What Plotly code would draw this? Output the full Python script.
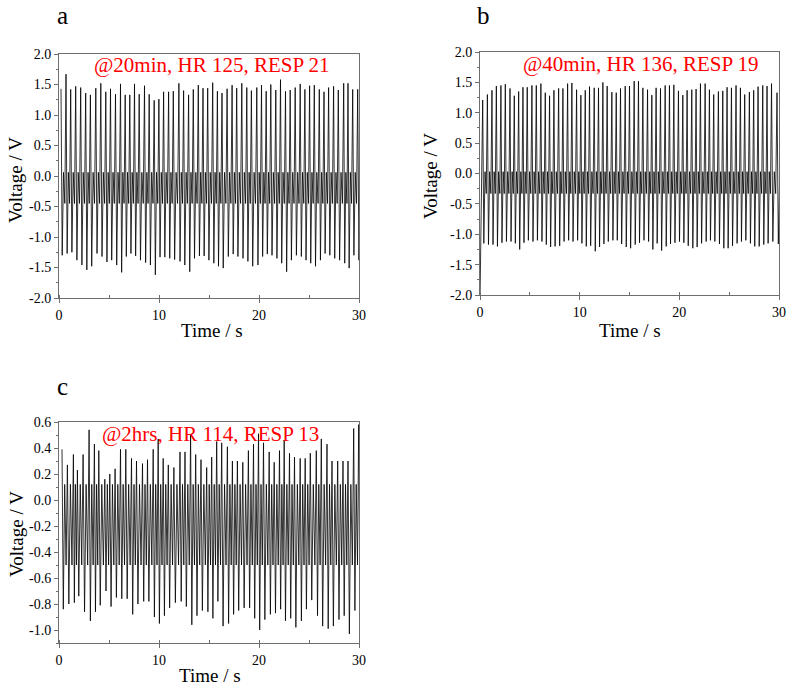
import plotly.graph_objects as go

# ---------------- data ----------------
# Panel a: @20min, HR 125, RESP 21
a_beat_t = [0.20, 0.70, 1.17, 1.67, 2.17, 2.67, 3.14, 3.68, 4.18, 4.68, 5.15, 5.65, 6.15, 6.62, 7.08,
            7.55, 8.02, 8.55, 9.02, 9.52, 9.99, 10.46, 10.96, 11.43, 11.99, 12.46, 12.96, 13.43, 13.93,
            14.40, 14.87, 15.37, 15.84, 16.30, 16.81, 17.31, 17.77, 18.28, 18.78, 19.24, 19.78, 20.25,
            20.72, 21.18, 21.68, 22.15, 22.65, 23.12, 23.62, 24.12, 24.59, 25.06, 25.53, 26.03, 26.50,
            26.96, 27.46, 27.93, 28.47, 28.90, 29.37, 29.87]
a_peak = [1.43, 1.67, 1.42, 1.47, 1.45, 1.36, 1.33, 1.44, 1.52, 1.38, 1.43, 1.34, 1.51, 1.33, 1.33,
          1.51, 1.34, 1.48, 1.34, 1.24, 1.26, 1.38, 1.38, 1.39, 1.52, 1.40, 1.33, 1.42, 1.49, 1.44,
          1.44, 1.53, 1.39, 1.36, 1.43, 1.49, 1.44, 1.52, 1.45, 1.40, 1.45, 1.49, 1.39, 1.50, 1.41,
          1.58, 1.39, 1.41, 1.45, 1.51, 1.42, 1.48, 1.49, 1.42, 1.38, 1.45, 1.47, 1.41, 1.52, 1.52,
          1.42, 1.42]
a_trough = [-1.30, -1.27, -1.25, -1.38, -1.46, -1.54, -1.48, -1.27, -1.32, -1.41, -1.38, -1.46, -1.58,
            -1.32, -1.27, -1.31, -1.38, -1.42, -1.46, -1.62, -1.33, -1.33, -1.35, -1.37, -1.40, -1.46,
            -1.57, -1.35, -1.31, -1.31, -1.38, -1.43, -1.48, -1.51, -1.32, -1.28, -1.32, -1.35, -1.40,
            -1.48, -1.46, -1.32, -1.28, -1.30, -1.35, -1.43, -1.57, -1.38, -1.30, -1.32, -1.38, -1.43,
            -1.48, -1.38, -1.27, -1.30, -1.35, -1.38, -1.43, -1.51, -1.30, -1.38]
a_notch = [0.06, -0.45]          # recovery level, secondary dip level

# Panel b: @40min, HR 136, RESP 19
b_lead_t = [0.0]
b_lead_v = [-2.1]
b_beat_t = [0.27, 0.74, 1.20, 1.64, 2.10, 2.54, 3.01, 3.44, 3.88, 4.31, 4.74, 5.21, 5.65, 6.11, 6.55,
            6.98, 7.42, 7.89, 8.32, 8.79, 9.22, 9.69, 10.12, 10.56, 10.99, 11.46, 11.89, 12.33, 12.76,
            13.23, 13.67, 14.10, 14.57, 15.00, 15.47, 15.90, 16.34, 16.81, 17.24, 17.67, 18.11, 18.58,
            19.01, 19.45, 19.91, 20.35, 20.78, 21.25, 21.68, 22.12, 22.59, 23.02, 23.45, 23.92, 24.36,
            24.79, 25.23, 25.69, 26.13, 26.56, 27.03, 27.46, 27.90, 28.37, 28.80, 29.25, 29.80]
b_peak = [1.21, 1.30, 1.37, 1.44, 1.45, 1.47, 1.40, 1.28, 1.35, 1.42, 1.42, 1.45, 1.45, 1.48, 1.33,
          1.28, 1.37, 1.40, 1.40, 1.48, 1.49, 1.38, 1.29, 1.37, 1.43, 1.41, 1.41, 1.50, 1.44, 1.34,
          1.33, 1.40, 1.44, 1.44, 1.52, 1.52, 1.41, 1.38, 1.29, 1.41, 1.40, 1.45, 1.45, 1.46, 1.36,
          1.29, 1.37, 1.38, 1.39, 1.48, 1.48, 1.38, 1.30, 1.35, 1.36, 1.42, 1.41, 1.45, 1.41, 1.30,
          1.34, 1.37, 1.43, 1.45, 1.44, 1.48, 1.33]
b_trough = [-1.15, -1.17, -1.17, -1.20, -1.14, -1.12, -1.12, -1.15, -1.25, -1.14, -1.10, -1.12, -1.10,
            -1.12, -1.17, -1.21, -1.20, -1.19, -1.12, -1.10, -1.12, -1.10, -1.15, -1.20, -1.19, -1.28,
            -1.21, -1.16, -1.12, -1.10, -1.10, -1.16, -1.21, -1.23, -1.17, -1.14, -1.10, -1.12, -1.25,
            -1.15, -1.27, -1.20, -1.16, -1.14, -1.12, -1.14, -1.19, -1.23, -1.21, -1.15, -1.12, -1.10,
            -1.12, -1.16, -1.23, -1.23, -1.19, -1.15, -1.12, -1.10, -1.15, -1.20, -1.20, -1.17, -1.15,
            -1.12, -1.16]
b_notch = [0.03, -0.33]

# Panel c: @2hrs, HR 114, RESP 13
c_beat_t = [0.30, 0.84, 1.44, 1.84, 2.41, 3.01, 3.54, 3.98, 4.58, 5.08, 5.61, 6.15, 6.68, 7.25, 7.75,
            8.35, 8.85, 9.42, 9.92, 10.42, 10.93, 11.49, 12.10, 12.60, 13.16, 13.67, 14.20, 14.77,
            15.27, 15.77, 16.27, 16.84, 17.34, 17.84, 18.38, 18.94, 19.45, 19.95, 20.45, 21.02, 21.52,
            22.05, 22.52, 23.05, 23.55, 24.12, 24.62, 25.13, 25.73, 26.23, 26.80, 27.30, 27.87, 28.40,
            28.90, 29.47, 29.97]
c_peak = [0.39, 0.27, 0.35, 0.23, 0.35, 0.54, 0.43, 0.38, 0.16, 0.20, 0.24, 0.39, 0.39, 0.32, 0.30,
          0.28, 0.31, 0.39, 0.47, 0.32, 0.27, 0.25, 0.37, 0.37, 0.50, 0.35, 0.31, 0.25, 0.33, 0.45,
          0.44, 0.41, 0.30, 0.30, 0.29, 0.38, 0.43, 0.51, 0.44, 0.37, 0.29, 0.38, 0.46, 0.36, 0.33,
          0.32, 0.32, 0.36, 0.38, 0.47, 0.43, 0.30, 0.30, 0.30, 0.30, 0.55, 0.58]
c_trough = [-0.84, -0.80, -0.79, -0.74, -0.86, -0.93, -0.86, -0.81, -0.70, -0.82, -0.75, -0.76, -0.76,
            -0.88, -0.80, -0.78, -0.78, -0.90, -0.95, -0.89, -0.83, -0.79, -0.78, -0.82, -0.96, -0.89,
            -0.85, -0.86, -0.91, -0.78, -0.97, -0.95, -0.88, -0.85, -0.83, -0.83, -0.91, -1.00, -0.92,
            -0.88, -0.87, -0.84, -0.93, -0.91, -0.98, -0.93, -0.84, -0.77, -0.89, -0.97, -0.99, -0.97,
            -0.92, -0.89, -1.03, -0.85, -0.73]
c_notch = [0.12, -0.50]

x_ticks = [0, 10, 20, 30]
x_ticklabels = ["0", "10", "20", "30"]
ab_y_ticks = [-2.0, -1.5, -1.0, -0.5, 0.0, 0.5, 1.0, 1.5, 2.0]
ab_y_ticklabels = ["-2.0", "-1.5", "-1.0", "-0.5", "0.0", "0.5", "1.0", "1.5", "2.0"]
c_y_ticks = [-1.0, -0.8, -0.6, -0.4, -0.2, 0.0, 0.2, 0.4, 0.6]
c_y_ticklabels = ["-1.0", "-0.8", "-0.6", "-0.4", "-0.2", "0.0", "0.2", "0.4", "0.6"]
panel_letters = ["a", "b", "c"]
panel_notes = ["@20min, HR 125, RESP 21", "@40min, HR 136, RESP 19", "@2hrs, HR 114, RESP 13"]
x_title = "Time / s"
y_title = "Voltage / V"

# ---------------- build waveform polylines from the beat data ----------------
# positions within a beat, as fractions of the interval to the next beat
F_TROUGH, F_HI, F_LO = 0.24, 0.50, 0.76


def waveform(beat_t, peak, trough, notch, lead_t=None, lead_v=None):
    xs, ys = [], []
    if lead_t:
        xs += list(lead_t)
        ys += list(lead_v)
    n = len(beat_t)
    for i in range(n):
        t = beat_t[i]
        dt = (beat_t[i + 1] - t) if i + 1 < n else (t - beat_t[i - 1])
        xs += [t, t + F_TROUGH * dt, t + F_HI * dt, t + F_LO * dt]
        ys += [peak[i], trough[i], notch[0], notch[1]]
    return xs, ys


fig = go.Figure()
line = dict(color="black", width=0.8)
xa, ya = waveform(a_beat_t, a_peak, a_trough, a_notch)
xb, yb = waveform(b_beat_t, b_peak, b_trough, b_notch, b_lead_t, b_lead_v)
xc, yc = waveform(c_beat_t, c_peak, c_trough, c_notch)
fig.add_trace(go.Scatter(x=xa, y=ya, mode="lines", line=line, xaxis="x", yaxis="y", showlegend=False))
fig.add_trace(go.Scatter(x=xb, y=yb, mode="lines", line=line, xaxis="x2", yaxis="y2", showlegend=False))
fig.add_trace(go.Scatter(x=xc, y=yc, mode="lines", line=line, xaxis="x3", yaxis="y3", showlegend=False))

W, H = 787, 686
FONT = "Liberation Serif, Times New Roman, serif"
AX_COL = "#6e6e6e"


def px_x(p):
    return p / W


def px_y(p):
    return 1 - p / H


def xaxis(dom, anchor):
    return dict(domain=dom, anchor=anchor, range=[0, 30], tickvals=x_ticks, ticktext=x_ticklabels,
                ticks="outside", ticklen=4, tickcolor=AX_COL, showline=True, linecolor=AX_COL,
                linewidth=1, mirror=True, showgrid=False, zeroline=False, automargin=False,
                ticklabeloverflow="allow",
                minor=dict(dtick=5, ticks="inside", ticklen=3, tickcolor=AX_COL),
                tickfont=dict(family=FONT, size=14, color="black"))


def yaxis(dom, anchor, rng, ticks, labels, minor_dt):
    return dict(domain=dom, anchor=anchor, range=rng, tickvals=ticks, ticktext=labels,
                ticks="outside", ticklen=4, tickcolor=AX_COL, showline=True, linecolor=AX_COL,
                linewidth=1, mirror=True, showgrid=False, zeroline=False, automargin=False,
                ticklabeloverflow="allow",
                minor=dict(dtick=minor_dt, ticks="outside", ticklen=2, tickcolor=AX_COL),
                tickfont=dict(family=FONT, size=14, color="black"))


fig.update_layout(
    width=W, height=H, margin=dict(l=0, r=0, t=0, b=0, autoexpand=False),
    paper_bgcolor="white", plot_bgcolor="white",
    xaxis=xaxis([px_x(59), px_x(359)], "y"),
    yaxis=yaxis([px_y(298), px_y(54)], "x", [-2.0, 2.0], ab_y_ticks, ab_y_ticklabels, 0.25),
    xaxis2=xaxis([px_x(480), px_x(779)], "y2"),
    yaxis2=yaxis([px_y(295), px_y(52)], "x2", [-2.0, 2.0], ab_y_ticks, ab_y_ticklabels, 0.25),
    xaxis3=xaxis([px_x(59), px_x(359)], "y3"),
    yaxis3=yaxis([px_y(643), px_y(422)], "x3", [-1.1, 0.6], c_y_ticks, c_y_ticklabels, 0.1),
)

letter_pos = [(62, 0, "top"), (483, 0, "top"), (62, 386, "middle")]
note_pos = [(212, 65), (641, 64), (210, 434)]
xtitle_pos = [(212, 330), (630, 330), (210, 675)]
ytitle_pos = [(16, 180), (430, 176), (16, 534)]
anns = []
for (lx, ly, ya_), txt in zip(letter_pos, panel_letters):
    anns.append(dict(x=px_x(lx), y=px_y(ly), xref="paper", yref="paper", text=txt, showarrow=False,
                     xanchor="center", yanchor=ya_,
                     font=dict(family=FONT, size=25, color="black")))
for (nx, ny), txt in zip(note_pos, panel_notes):
    anns.append(dict(x=px_x(nx), y=px_y(ny), xref="paper", yref="paper", text=txt, showarrow=False,
                     xanchor="center", yanchor="middle",
                     font=dict(family=FONT, size=21, color="#ff0000")))
for (tx, ty) in xtitle_pos:
    anns.append(dict(x=px_x(tx), y=px_y(ty), xref="paper", yref="paper", text=x_title,
                     showarrow=False, xanchor="center", yanchor="middle",
                     font=dict(family=FONT, size=19, color="black")))
for (tx, ty) in ytitle_pos:
    anns.append(dict(x=px_x(tx), y=px_y(ty), xref="paper", yref="paper", text=y_title,
                     showarrow=False, xanchor="center", yanchor="middle", textangle=-90,
                     font=dict(family=FONT, size=19, color="black")))
fig.update_layout(annotations=anns)

fig.write_html("out.html", config={"displayModeBar": False},
               post_script="document.body.style.margin='0';")
